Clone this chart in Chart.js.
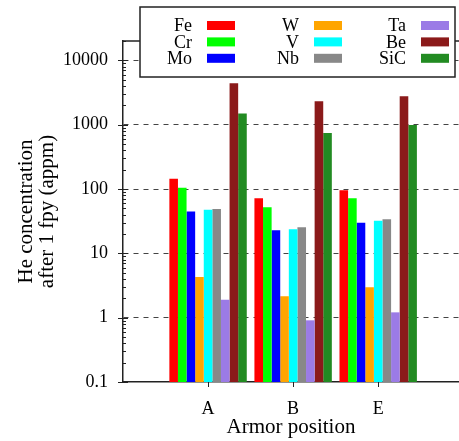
<!DOCTYPE html>
<html>
<head>
<meta charset="utf-8">
<script src="https://cdn.jsdelivr.net/npm/chart.js@4.4.1/dist/chart.umd.min.js"></script>
<style>
html, body { margin: 0; padding: 0; background: #fff; overflow: hidden; }
#wrap { position: relative; width: 459px; height: 441px; }
</style>
</head>
<body>
<div id="wrap"><canvas id="myChart"></canvas></div>
<script>
// armor positions (x categories)
var positions = ['A', 'B', 'E'];
var materials = ['Fe', 'Cr', 'Mo', 'W', 'V', 'Nb', 'Ta', 'Be', 'SiC'];
var colours = ['#ff0000', '#00ff00', '#0000ff', '#ffa500', '#00ffff', '#888888', '#9b7be6', '#8b1a1a', '#228b22'];

// He concentration after 1 fpy (appm), one array per material, order A, B, E
var fe  = [145, 72, 96];
var cr  = [105, 52, 72];
var mo  = [44.6, 22.9, 30];
var w   = [4.3, 2.15, 2.97];
var v   = [47.6, 23.7, 32];
var nb  = [49, 25.5, 34];
var ta  = [1.9, 0.91, 1.21];
var be  = [4400, 2320, 2780];
var sic = [1490, 740, 990];

var yTicks = [0.1, 1, 10, 100, 1000, 10000];
var yTickLabels = ['0.1', '1', '10', '100', '1000', '10000'];

var series = [fe, cr, mo, w, v, nb, ta, be, sic];

Chart.defaults.font.family = "'Liberation Serif', 'Times New Roman', serif";
Chart.defaults.color = '#000';

var datasets = materials.map(function(m, i) {
  return {
    label: m,
    backgroundColor: colours[i],
    borderWidth: 0,
    data: series[i].map(function(val, j) { return {x: j, y: val}; })
  };
});

function line(ctx, x1, y1, x2, y2) {
  ctx.beginPath();
  ctx.moveTo(x1, y1);
  ctx.lineTo(x2, y2);
  ctx.stroke();
}

// frame, tick marks and the boxed key (gnuplot style)
var framePlugin = {
  id: 'frame',
  afterDraw: function(chart) {
    var ctx = chart.ctx, a = chart.chartArea;
    var ys = chart.scales.y, xs = chart.scales.x;
    ctx.save();
    ctx.strokeStyle = '#222';
    ctx.lineWidth = 1.5;
    line(ctx, a.left, a.top, a.right, a.top);

    ctx.lineWidth = 1;
    yTicks.forEach(function(t) {
      var p = Math.round(ys.getPixelForValue(t)) + 0.5;
      line(ctx, a.left - 5, p, a.left + 5, p);
      for (var m = 2; m <= 9; m++) {
        if (m * t > ys.max) break;
        var q = Math.round(ys.getPixelForValue(m * t)) + 0.5;
        line(ctx, a.left, q, a.left + 3, q);
      }
    });
    positions.forEach(function(p, i) {
      var x = Math.round(xs.getPixelForValue(i)) + 0.5;
      line(ctx, x, a.bottom, x, a.bottom + 5);
    });

    // key
    ctx.fillStyle = '#fff';
    ctx.fillRect(140, 7, 315, 70);
    ctx.lineWidth = 1.5;
    ctx.strokeRect(140, 7, 315, 70);
    ctx.font = "18px 'Liberation Serif', serif";
    ctx.textAlign = 'right';
    ctx.textBaseline = 'middle';
    chart.data.datasets.forEach(function(ds, i) {
      var col = Math.floor(i / 3), row = i % 3;
      var ty = 25.5 + row * 16.4;
      ctx.fillStyle = '#000';
      ctx.fillText(ds.label, 192 + col * 107, ty + 1);
      ctx.fillStyle = ds.backgroundColor;
      ctx.fillRect(207 + col * 107, ty - 4.5, 28, 9);
    });
    ctx.restore();
  }
};

var element = document.getElementById('myChart').getContext('2d');

var chart = new Chart(element, {
  type: 'bar',
  data: { datasets: datasets },
  options: {
    responsive: true,
    maintainAspectRatio: false,
    animation: false,
    devicePixelRatio: 1,
    categoryPercentage: 0.91,
    barPercentage: 1.0,
    layout: { padding: { top: 41, left: 0, right: 0, bottom: 0 } },
    plugins: { legend: { display: false }, tooltip: { enabled: false } },
    scales: {
      x: {
        type: 'linear',
        offset: false,
        bounds: 'data',
        min: -1,
        max: 2.95,
        afterBuildTicks: function(s) {
          s.ticks = positions.map(function(p, i) { return {value: i}; });
        },
        afterFit: function(s) { s.height = 59; },
        ticks: {
          callback: function(val) { return positions[val]; },
          font: { size: 18 },
          color: '#000',
          padding: 8,
          maxRotation: 0,
          autoSkip: false
        },
        grid: { display: false, offset: false },
        border: { color: '#222', width: 1.5 },
        title: {
          display: true,
          text: 'Armor position',
          font: { size: 21, lineHeight: 1.0 },
          color: '#000',
          padding: { top: 0, bottom: 3 }
        }
      },
      y: {
        type: 'logarithmic',
        min: 0.1,
        max: 20000,
        afterBuildTicks: function(s) {
          s.ticks = yTicks.map(function(t) { return {value: t, major: true}; });
        },
        afterFit: function(s) { s.width = 123; },
        ticks: {
          callback: function(val, i) { return yTickLabels[i]; },
          font: { size: 18 },
          color: '#000',
          padding: 15
        },
        grid: {
          drawTicks: false,
          lineWidth: 1,
          color: function(c) {
            return (c.tick && c.tick.value > 0.1) ? '#444' : 'rgba(0,0,0,0)';
          }
        },
        border: { color: '#222', width: 1.5, dash: [5, 5] },
        title: {
          display: true,
          text: ['He concentration', 'after 1 fpy (appm)'],
          font: { size: 21, lineHeight: 1.0 },
          color: '#000',
          padding: { top: 15.5, bottom: 0 }
        }
      }
    }
  },
  plugins: [framePlugin]
});
</script>
</body>
</html>
